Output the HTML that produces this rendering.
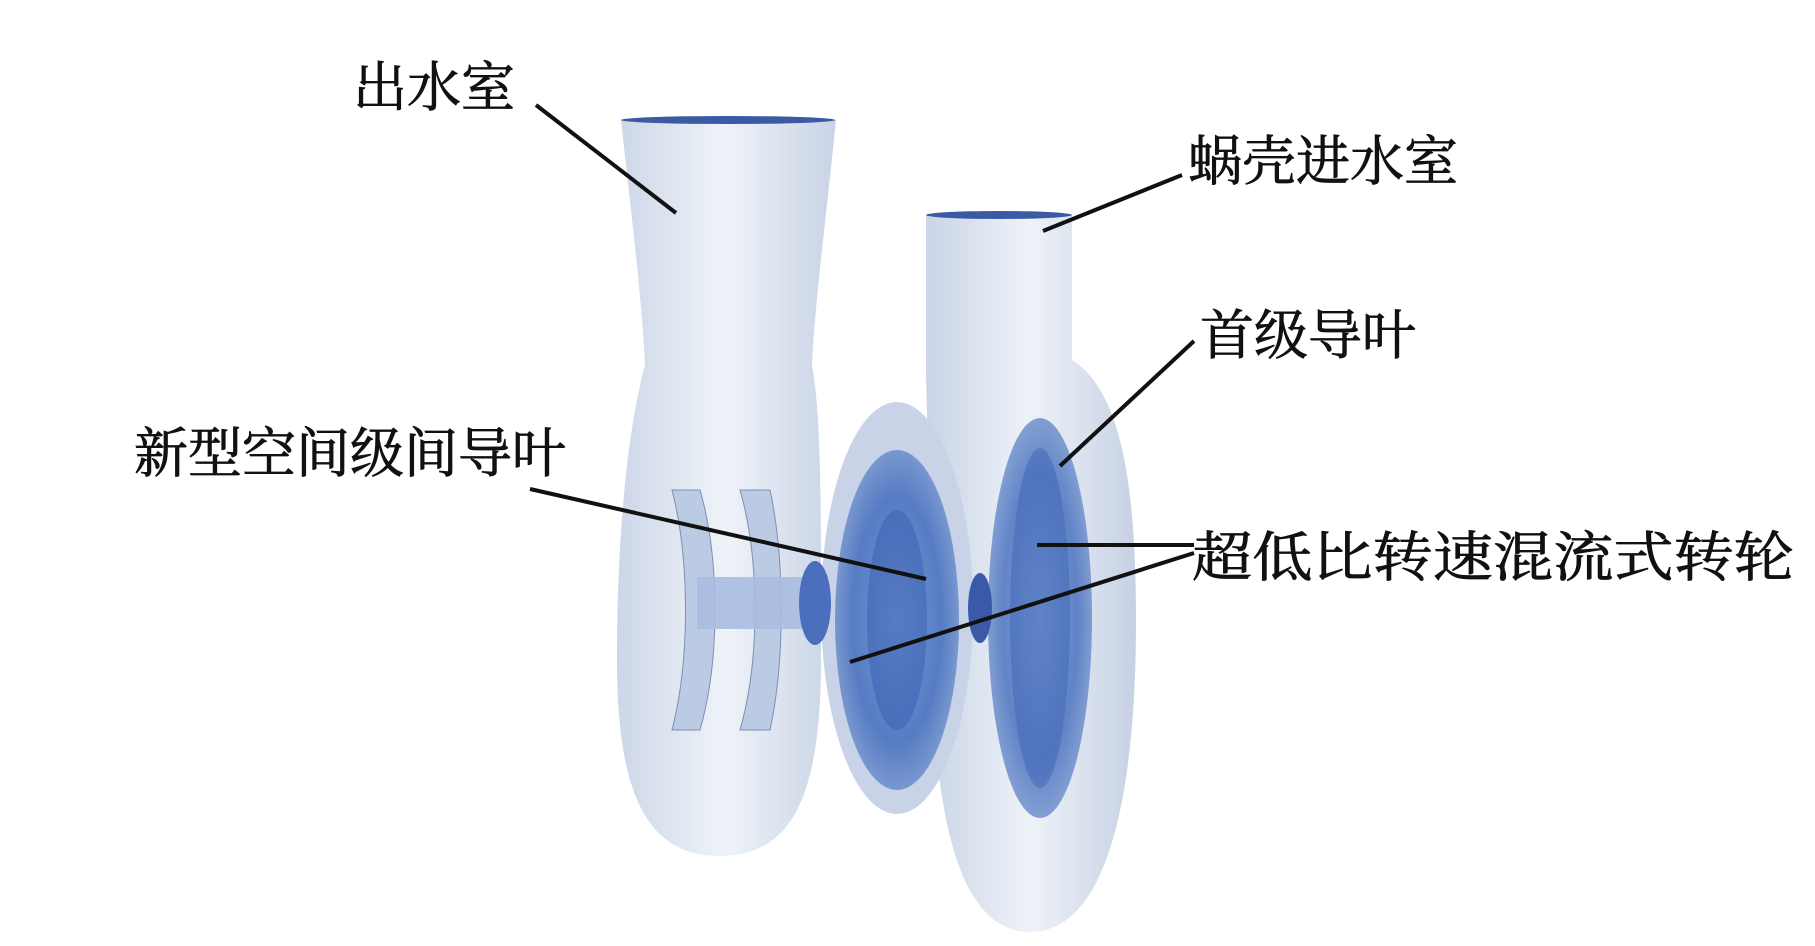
<!DOCTYPE html>
<html><head><meta charset="utf-8"><style>
html,body{margin:0;padding:0;background:#fff;}
svg{display:block;}
text{font-family:"Liberation Serif","Noto Serif CJK SC","Noto Sans CJK SC",serif;fill:#111;stroke:#111;stroke-width:0.8;}
</style></head><body>
<svg width="1815" height="946" viewBox="0 0 1815 946" xmlns="http://www.w3.org/2000/svg">
<defs>
<linearGradient id="pipe" x1="0" x2="1" y1="0" y2="0">
<stop offset="0" stop-color="#c9d4e6"/><stop offset="0.35" stop-color="#e4eaf3"/><stop offset="0.5" stop-color="#eef2f8"/><stop offset="1" stop-color="#c6d1e4"/></linearGradient>
<radialGradient id="disc" cx="0.5" cy="0.5" r="0.6">
<stop offset="0" stop-color="#6f93d3"/><stop offset="0.6" stop-color="#4a72bf"/><stop offset="1" stop-color="#8ba6d6"/></radialGradient>
</defs>
<path d="M926,215 L1072,215 L1072,360 C1120,390 1136,480 1136,620 C1136,820 1100,932 1030,932 C960,932 932,820 932,640 C932,500 926,420 926,360 Z" fill="url(#pipe)"/>
<ellipse cx="999" cy="215" rx="73" ry="4" fill="#3b5aa3"/>
<ellipse cx="1040" cy="618" rx="52" ry="200" fill="url(#disc)" opacity="0.85"/>
<ellipse cx="1040" cy="618" rx="30" ry="170" fill="#3d63b3" opacity="0.5"/>
<ellipse cx="897" cy="608" rx="76" ry="206" fill="#c8d3e8"/>
<ellipse cx="897" cy="620" rx="62" ry="170" fill="url(#disc)" opacity="0.9"/>
<ellipse cx="897" cy="620" rx="30" ry="110" fill="#385eaf" opacity="0.5"/>
<ellipse cx="980" cy="608" rx="12" ry="35" fill="#3a5aa8"/>
<path d="M621,120 L836,120 C826,220 815,300 812,365 C822,420 821,520 821,660 C821,800 790,856 720,856 C650,856 617,800 617,660 C617,520 630,420 645,365 C642,300 632,220 621,120 Z" fill="url(#pipe)" opacity="0.95"/>
<ellipse cx="728" cy="120" rx="107" ry="4" fill="#3b5aa3"/>
<path d="M672,490 C690,560 690,660 672,730 L700,730 C720,660 720,560 700,490 Z" fill="#bccbe4" stroke="#7d8fb3" stroke-width="1"/>
<path d="M740,490 C760,560 760,660 740,730 L770,730 C785,660 785,560 770,490 Z" fill="#bccbe4" stroke="#7d8fb3" stroke-width="1"/>
<rect x="697" y="577" width="118" height="52" fill="#a9bde0" opacity="0.9"/>
<ellipse cx="815" cy="603" rx="16" ry="42" fill="#4b6fbd"/>
<g stroke="#111" stroke-width="4" fill="none">
<line x1="536" y1="105" x2="676" y2="213"/>
<line x1="1182" y1="175" x2="1043" y2="231"/>
<line x1="1194" y1="341" x2="1060" y2="466"/>
<line x1="530" y1="489" x2="926" y2="579"/>
<line x1="1194" y1="545" x2="1037" y2="545"/>
<line x1="1194" y1="553" x2="850" y2="662"/>
</g>
<g font-size="54">
<text x="353" y="106">出水室</text>
<text x="1188" y="180">蜗壳进水室</text>
<text x="1200" y="354">首级导叶</text>
<text x="134" y="472">新型空间级间导叶</text>
<text x="1192" y="576" textLength="602" lengthAdjust="spacingAndGlyphs">超低比转速混流式转轮</text>
</g>
</svg>
</body></html>
